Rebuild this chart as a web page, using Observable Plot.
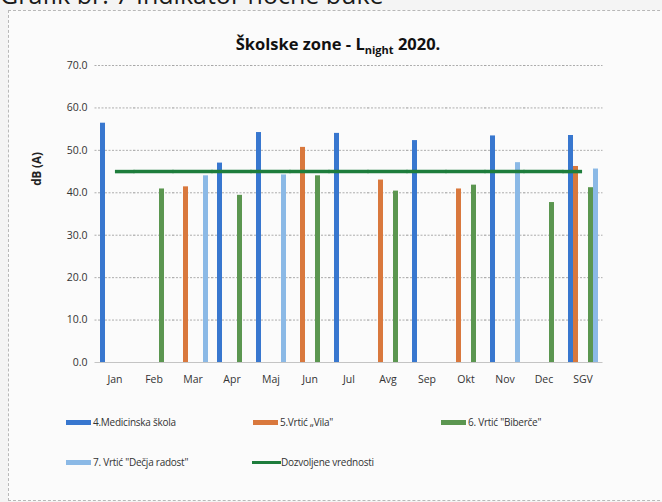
<!DOCTYPE html>
<html><head><meta charset="utf-8">
<script src="https://cdn.jsdelivr.net/npm/d3@7"></script>
<script src="https://cdn.jsdelivr.net/npm/@observablehq/plot@0.6"></script>
<style>
body{margin:0;background:#f4f4f4;font-family:"Open Sans",sans-serif;color:#222}
#wrap{position:relative;width:662px;height:502px;overflow:hidden;background:#f4f4f4}
#box{position:absolute;left:8px;top:10px;width:700px;height:489px;border:1px dashed #b8b8b8;background:#fbfbfb}
#top{position:absolute;left:0;top:-18px;font-size:25px;line-height:25px;white-space:nowrap;color:#1a1a1a}
#title{position:absolute;left:0;width:676px;top:32px;text-align:center;font-weight:bold;font-size:16.5px;color:#111}
#title sub{font-size:11px;vertical-align:-4px;line-height:0}
#ylab{position:absolute;left:36px;top:169px;transform:translate(-50%,-50%) rotate(-90deg);font-weight:bold;font-size:11.5px;white-space:nowrap;color:#222}
#chart{position:absolute;left:0;top:0}
.lg{position:absolute;font-size:10px;letter-spacing:-0.25px;white-space:nowrap;color:#333;display:flex;align-items:center}
.sw{display:inline-block;flex:0 0 25px;width:25px;height:5px;margin-right:2px}
.ln{display:inline-block;flex:0 0 29px;width:29px;height:3px;margin-right:0}
</style>
</head><body>
<div id="wrap">
<div id="box"></div>
<div id="top">Grafik br. 7 Indikator noćne buke</div>
<div id="chart"></div>
<div id="title">Školske zone - L<sub>night</sub> 2020.</div>
<div id="ylab">dB (A)</div>
<div id="legend"></div>
</div>
<script>
const months = ["Jan","Feb","Mar","Apr","Maj","Jun","Jul","Avg","Sep","Okt","Nov","Dec","SGV"];
const seriesNames = ["4.Medicinska škola", "5.Vrtić „Vila\"", "6. Vrtić \"Biberče\"", "7. Vrtić \"Dečja radost\""];
const lineName = "Dozvoljene vrednosti";
const medicinska = [56.4, null, null, 47.0, 54.2, null, 54.0, null, 52.3, null, 53.4, null, 53.5];
const vila       = [null, null, 41.4, null, null, 50.7, null, 43.0, null, 40.9, null, null, 46.2];
const biberce    = [null, 40.9, null, 39.4, null, 44.0, null, 40.4, null, 41.8, null, 37.7, 41.2];
const decja      = [null, null, 44.0, null, 44.2, null, null, null, null, null, 47.1, null, 45.6];
const limitValue = 45;
const yTicks = [0, 10, 20, 30, 40, 50, 60, 70];
// slot order within each month group (two empty slots between series 5 and 6)
const slots = [seriesNames[0], seriesNames[1], "gap1", "gap2", seriesNames[2], seriesNames[3]];
const colors = ["#3877cf", "#d9783d", "#5b9650", "#8bb9e6"];
const lineColor = "#1e7d3c";

const allSeries = [medicinska, vila, biberce, decja];
const data = [];
allSeries.forEach((vals, si) => vals.forEach((v, mi) => {
  if (v != null) data.push({month: months[mi], series: seriesNames[si], value: v});
}));
const limitRows = months.map(m => ({month: m, value: limitValue}));

const W = 662, H = 502, mL = 90, mR = 54, mT = 65, mB = 140;
const fxPadIn = 0.2, fxPadOut = 0.1;
const step = (W - mL - mR) / (months.length - fxPadIn + 2 * fxPadOut);
const bw = step * (1 - fxPadIn);
const halfGap = step * fxPadIn / 2 + 0.5;

const font = "'Open Sans', sans-serif";
const chart = Plot.plot({
  width: W, height: H,
  marginLeft: mL, marginRight: mR, marginTop: mT, marginBottom: mB,
  style: {background: "transparent", fontFamily: font, fontSize: "10.5px", color: "#333"},
  fx: {domain: months, paddingInner: fxPadIn, paddingOuter: fxPadOut, label: null, axis: "bottom", tickSize: 0, tickPadding: 13},
  x: {domain: slots, paddingInner: 0.1, paddingOuter: 0.05, axis: null},
  y: {domain: [0, 70], ticks: yTicks, tickFormat: d3.format(".1f"), label: null, tickSize: 0, tickPadding: 12},
  color: {domain: seriesNames, range: colors},
  marks: [
    Plot.ruleY(yTicks.filter(d => d > 0), {stroke: "#9a9a9a", strokeDasharray: "2,1.5", strokeOpacity: 0.8, insetLeft: -halfGap, insetRight: -halfGap}),
    Plot.ruleY([0], {stroke: "#c4c4c4", insetLeft: -halfGap, insetRight: -halfGap}),
    Plot.barY(data, {fx: "month", x: "series", y: "value", fill: "series"}),
    Plot.ruleY(limitRows.filter(d => d.month === months[0]), {fx: "month", y: "value", stroke: lineColor, strokeWidth: 3.5, insetLeft: bw / 2, insetRight: -halfGap}),
    Plot.ruleY(limitRows.slice(1, -1), {fx: "month", y: "value", stroke: lineColor, strokeWidth: 3.5, insetLeft: -halfGap, insetRight: -halfGap}),
    Plot.ruleY(limitRows.filter(d => d.month === months[months.length - 1]), {fx: "month", y: "value", stroke: lineColor, strokeWidth: 3.5, insetLeft: -halfGap, insetRight: bw / 2})
  ]
});
document.getElementById("chart").appendChild(chart);

const legendItems = [
  {name: seriesNames[0], color: colors[0], x: 66, y: 422, line: false},
  {name: seriesNames[1], color: colors[1], x: 253, y: 422, line: false},
  {name: seriesNames[2], color: colors[2], x: 441, y: 422, line: false},
  {name: seriesNames[3], color: colors[3], x: 66, y: 462, line: false},
  {name: lineName, color: lineColor, x: 252, y: 462, line: true}
];
const lg = document.getElementById("legend");
legendItems.forEach(it => {
  const d = document.createElement("div");
  d.className = "lg";
  d.style.left = it.x + "px";
  d.style.top = (it.y - 8) + "px";
  d.style.height = "16px";
  const s = document.createElement("span");
  s.className = it.line ? "ln" : "sw";
  s.style.background = it.color;
  d.appendChild(s);
  d.appendChild(document.createTextNode(it.name));
  lg.appendChild(d);
});
</script>
</body></html>
